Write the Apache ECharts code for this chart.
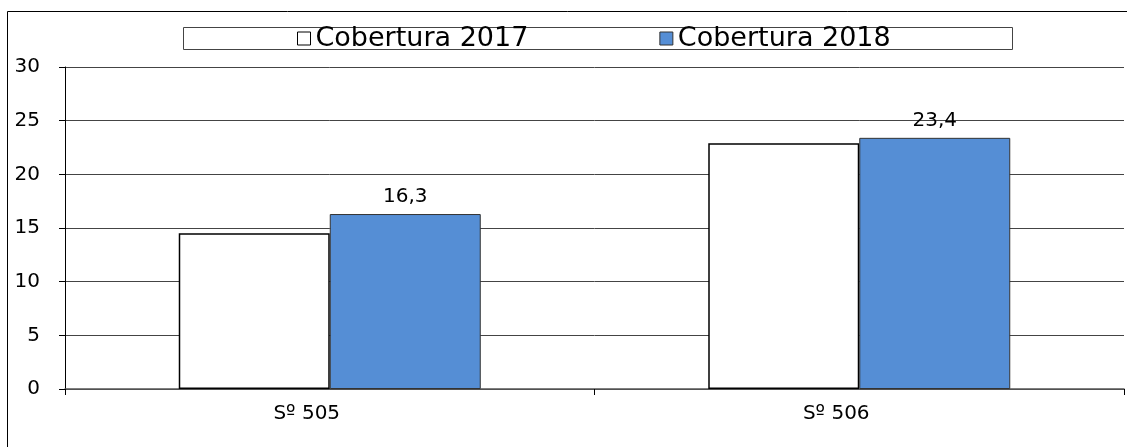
<!DOCTYPE html>
<html>
<head>
<meta charset="utf-8">
<script src="https://cdn.jsdelivr.net/npm/echarts@6/dist/echarts.min.js"></script>
<style>
  html, body { margin: 0; padding: 0; background: #fff; }
  #chart { width: 1127px; height: 447px; }
</style>
</head>
<body>
<div id="chart"></div>
<script>
var categories = ["S\u00ba 505", "S\u00ba 506"];
var seriesNames = ["Cobertura 2017", "Cobertura 2018"];
var cob2017 = [14.5, 22.9];
var cob2018 = [16.3, 23.4];

var chart = echarts.init(document.getElementById("chart"));

var font = "'DejaVu Sans', sans-serif";

var option = {
  animation: false,
  textStyle: { fontFamily: font },
  graphic: [
    {
      // outer frame
      type: "rect",
      shape: { x: 7.5, y: 11.5, width: 1140, height: 460 },
      style: { fill: "none", stroke: "#000", lineWidth: 1 },
      silent: true
    },
    {
      // legend box
      type: "rect",
      shape: { x: 183.5, y: 27.5, width: 829, height: 22 },
      style: { fill: "#fff", stroke: "#444", lineWidth: 1 },
      z: 0
    }
  ],
  legend: {
    left: 297,
    top: 25,
    padding: 0,
    itemWidth: 13,
    itemHeight: 13,
    itemGap: 131,
    icon: "rect",
    textStyle: { fontSize: 27, color: "#000", fontFamily: font },
    data: [
      { name: seriesNames[0], itemStyle: { color: "#fff", borderColor: "#000", borderWidth: 1 } },
      { name: seriesNames[1], itemStyle: { color: "#558ED5", borderColor: "#333", borderWidth: 1 } }
    ],
    z: 5
  },
  grid: { left: 65, right: 3, top: 67, bottom: 58 },
  xAxis: {
    type: "category",
    data: categories,
    axisLine: { lineStyle: { color: "#555", width: 1.5 } },
    axisTick: { show: true, length: 6, lineStyle: { color: "#000" } },
    axisLabel: { fontSize: 20, color: "#000", margin: 15, fontFamily: font, padding: [0, 46, 0, 0] }
  },
  yAxis: {
    type: "value",
    min: 0,
    max: 30,
    interval: 5,
    axisLine: { show: true, lineStyle: { color: "#000", width: 1 } },
    axisTick: { show: true, length: 6, lineStyle: { color: "#000" } },
    axisLabel: { fontSize: 20, color: "#000", margin: 25, fontFamily: font },
    splitLine: { show: true, lineStyle: { color: "#444", width: 1 } }
  },
  series: [
    {
      name: seriesNames[0],
      type: "bar",
      data: cob2017,
      barWidth: 151,
      barGap: "0%",
      itemStyle: { color: "#fff", borderColor: "#000", borderWidth: 1.5 }
    },
    {
      name: seriesNames[1],
      type: "bar",
      data: cob2018,
      barWidth: 151,
      itemStyle: { color: "#558ED5", borderColor: "#333", borderWidth: 1 },
      label: {
        show: true,
        position: "top",
        distance: 7,
        fontSize: 20,
        color: "#000",
        fontFamily: font,
        formatter: function (p) { return p.value.toFixed(1).replace(".", ","); }
      }
    }
  ]
};

chart.setOption(option);
</script>
</body>
</html>
